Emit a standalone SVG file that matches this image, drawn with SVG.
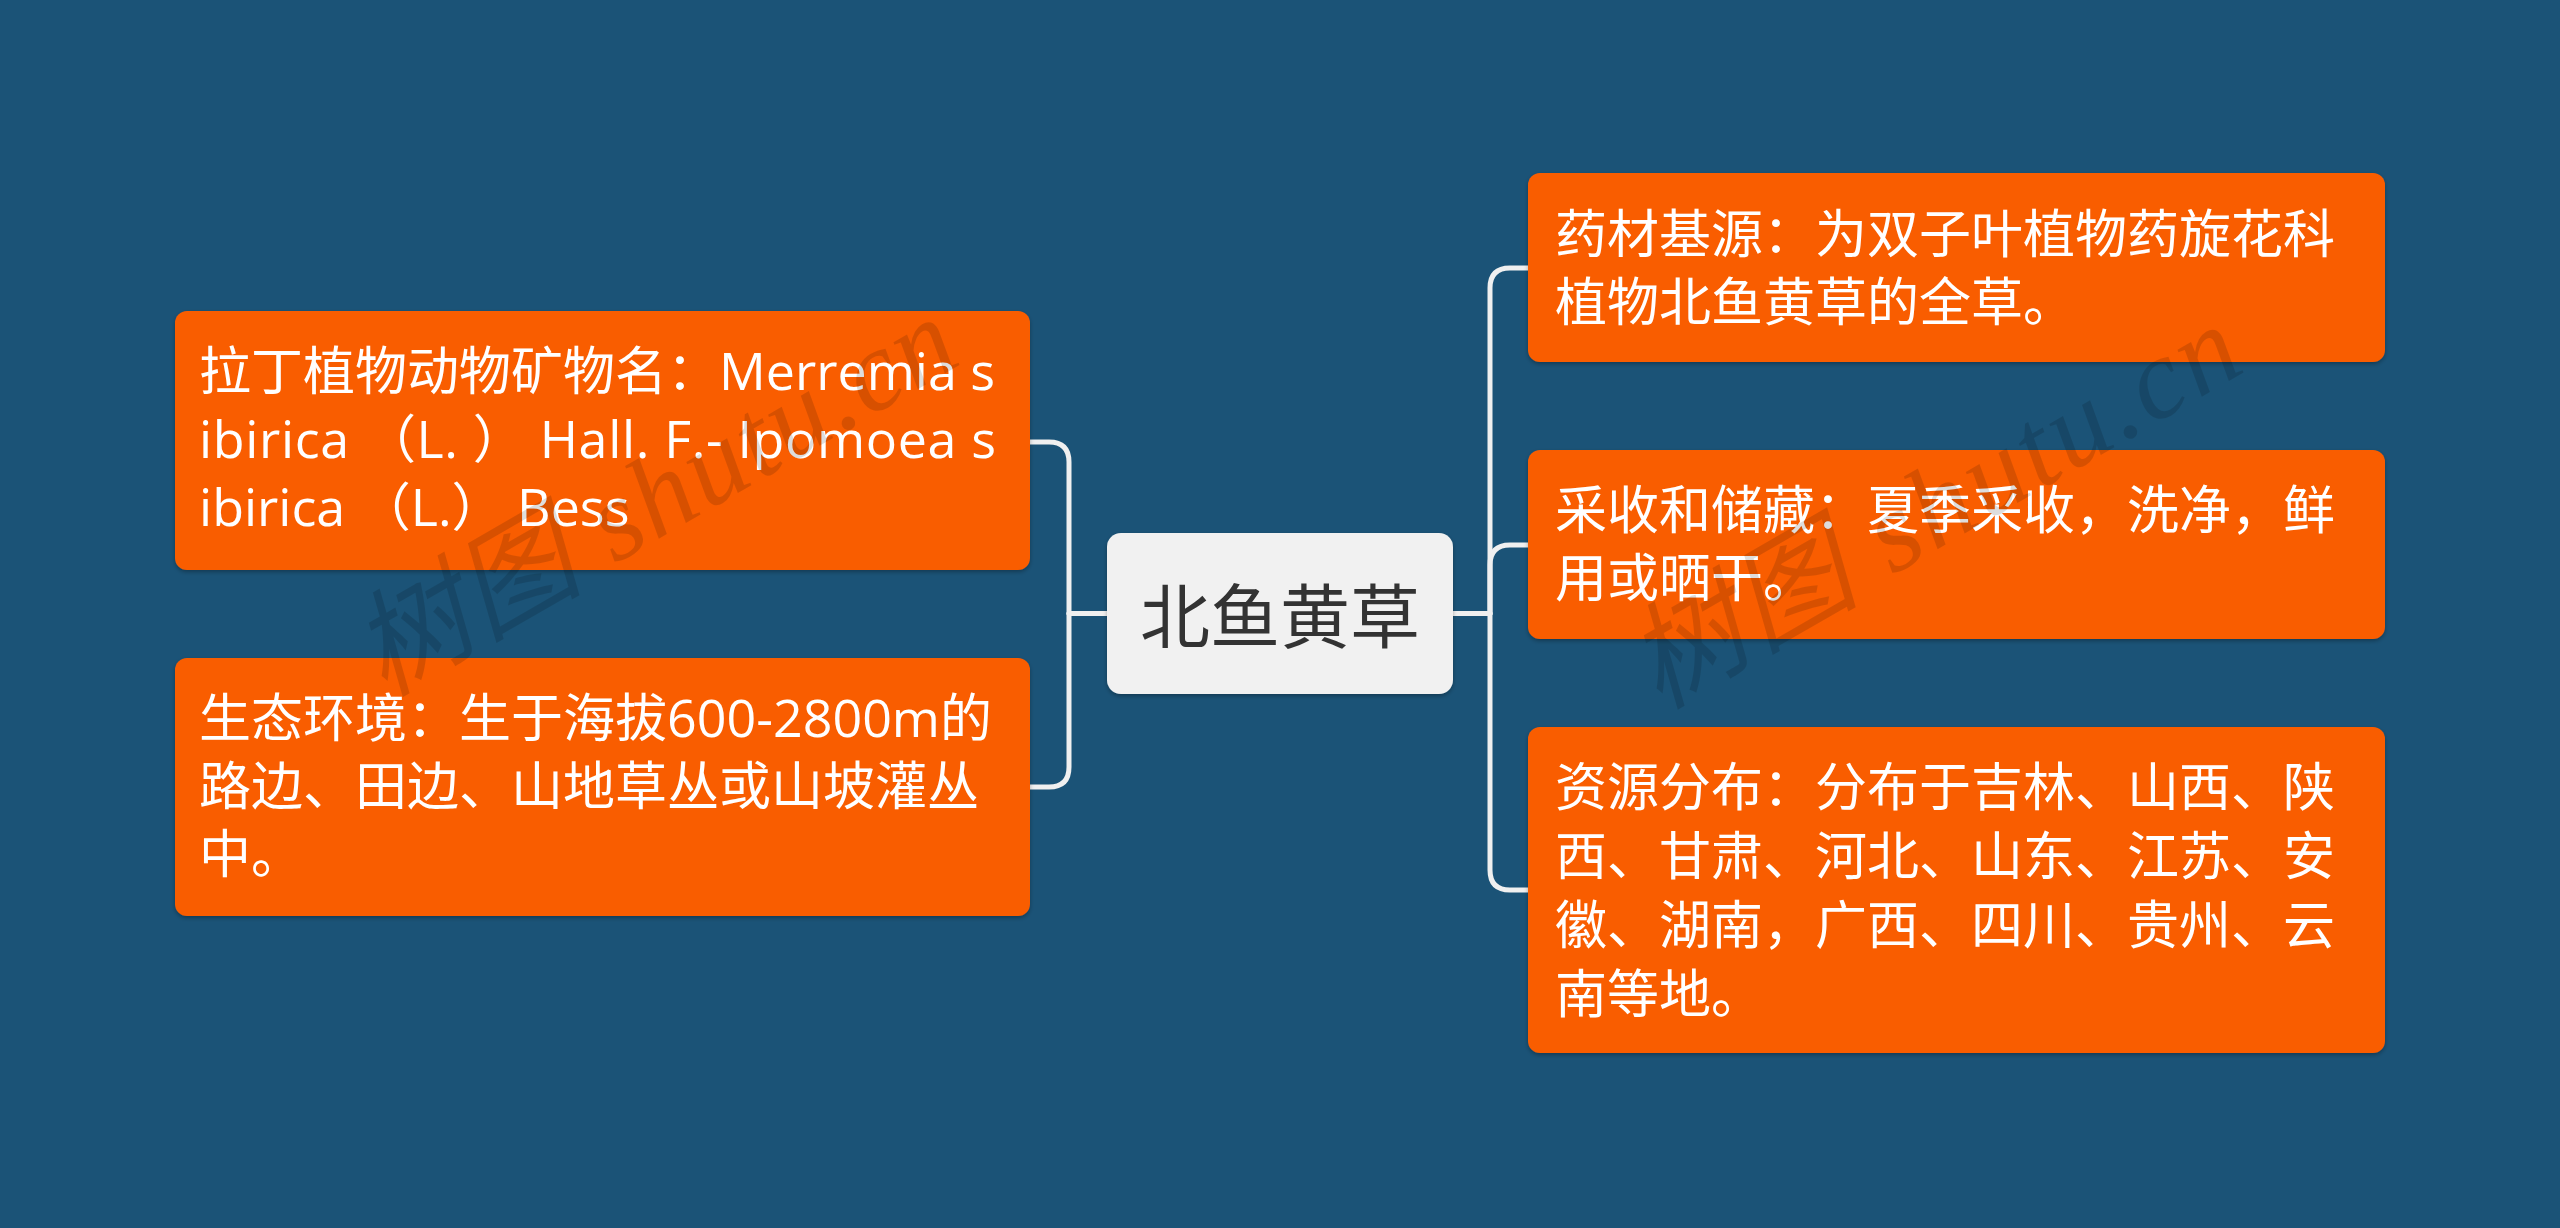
<svg xmlns="http://www.w3.org/2000/svg" width="2560" height="1228" viewBox="0 0 2560 1228">
<defs>
<filter id="sh" x="-5%" y="-5%" width="110%" height="115%">
<feDropShadow dx="0" dy="2" stdDeviation="2" flood-color="#000" flood-opacity="0.3"/>
</filter>
<style>
.bg{fill:#1b5377}
.leaf{fill:#f95d02;filter:url(#sh)}
.root{fill:#f1f1f1;filter:url(#sh)}
.lt{font-family:"Open Sans","Noto Sans CJK SC",sans-serif;font-size:52px;fill:#ffffff}
.rt{font-family:"Noto Sans CJK SC",sans-serif;font-size:70px;fill:#333333;text-anchor:middle}
.conn path{fill:none;stroke:#f0f0f0;stroke-width:5;stroke-linecap:round}
.wm{font-family:"Liberation Serif","Noto Sans CJK SC",serif;font-style:italic;font-size:115px;fill:#000;opacity:0.13;text-anchor:middle}
</style>
</defs>
<rect class="bg" x="0" y="0" width="2560" height="1228"/>
<g id="connectors" class="conn">
<path d="M1107 613.5 H1069"/>
<path d="M1069 613.5 V462 Q1069 442 1049 442 H1030"/>
<path d="M1069 613.5 V767 Q1069 787 1049 787 H1030"/>
<path d="M1453 613.5 H1490"/>
<path d="M1490 613.5 V288 Q1490 268 1510 268 H1528"/>
<path d="M1490 613.5 V565 Q1490 545 1510 545 H1528"/>
<path d="M1490 613.5 V870 Q1490 890 1510 890 H1528"/>
</g>
<g id="root">
<rect class="root" x="1107" y="533" width="346" height="161" rx="14"/>
<text class="rt" x="1280" y="643">北鱼黄草</text>
</g>
<g id="n-latin">
<rect class="leaf" x="175" y="311" width="855" height="259" rx="12"/>
<text class="lt"><tspan x="199" y="390">拉丁植物动物矿物名：Merremia s</tspan><tspan x="199" y="458" textLength="797" lengthAdjust="spacing">ibirica （L. ） Hall. F.- Ipomoea s</tspan><tspan x="199" y="526">ibirica （L.） Bess</tspan></text>
</g>
<g id="n-env">
<rect class="leaf" x="175" y="658" width="855" height="258" rx="12"/>
<text class="lt"><tspan x="199" y="737">生态环境：生于海拔600-2800m的</tspan><tspan x="199" y="805">路边、田边、山地草丛或山坡灌丛</tspan><tspan x="199" y="873">中。</tspan></text>
</g>
<g id="n-source">
<rect class="leaf" x="1528" y="173" width="857" height="189" rx="12"/>
<text class="lt"><tspan x="1555" y="253">药材基源：为双子叶植物药旋花科</tspan><tspan x="1555" y="321">植物北鱼黄草的全草。</tspan></text>
</g>
<g id="n-harvest">
<rect class="leaf" x="1528" y="450" width="857" height="189" rx="12"/>
<text class="lt"><tspan x="1555" y="529">采收和储藏：夏季采收，洗净，鲜</tspan><tspan x="1555" y="597">用或晒干。</tspan></text>
</g>
<g id="n-dist">
<rect class="leaf" x="1528" y="727" width="857" height="326" rx="12"/>
<text class="lt"><tspan x="1555" y="806">资源分布：分布于吉林、山西、陕</tspan><tspan x="1555" y="875">西、甘肃、河北、山东、江苏、安</tspan><tspan x="1555" y="944">徽、湖南，广西、四川、贵州、云</tspan><tspan x="1555" y="1013">南等地。</tspan></text>
</g>
<g id="watermarks">
<text class="wm" x="655" y="535" transform="rotate(-30 655 497)" textLength="670">树图 shutu.cn</text>
<text class="wm" x="1935" y="545" transform="rotate(-30 1935 508)" textLength="680">树图 shutu.cn</text>
</g>
</svg>
